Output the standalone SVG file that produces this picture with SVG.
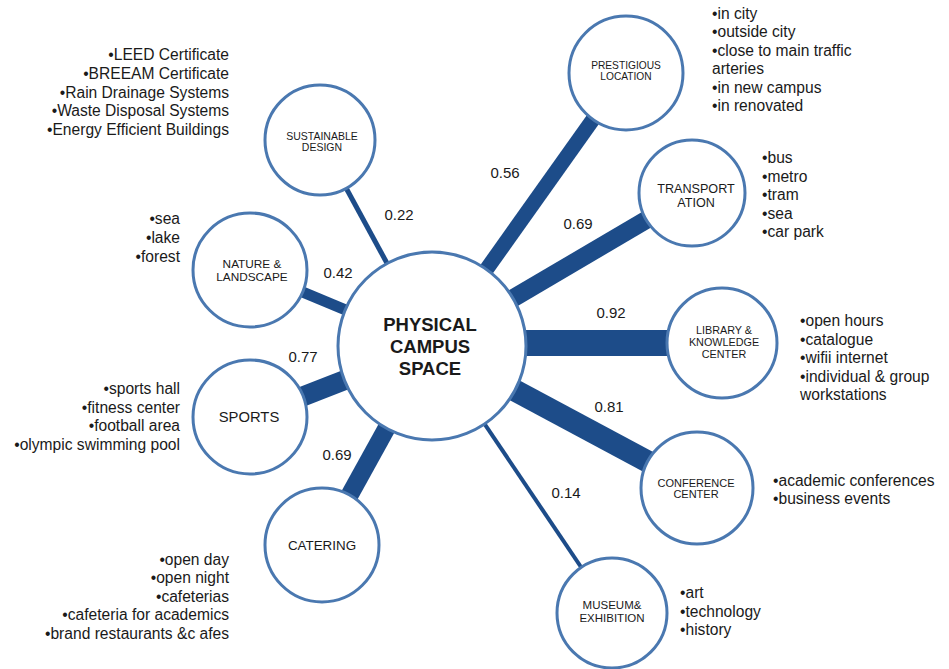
<svg xmlns="http://www.w3.org/2000/svg" width="949" height="669" viewBox="0 0 949 669">
<style>
.bar{stroke:#1d4c89;stroke-linecap:butt}
.node{fill:#fff;stroke:#4a78b0;stroke-width:3}
.t{font-family:"Liberation Sans",Arial,sans-serif;fill:#1a1a1a}
.lbl{text-anchor:middle}
.lst{font-size:15.6px}
.num{font-size:15px;text-anchor:middle}
.r{text-anchor:end}
</style>
<rect width="949" height="669" fill="#fff"/>
<g id="connectors">
<line class="bar" x1="432" y1="346" x2="626" y2="73" stroke-width="15"/>
<line class="bar" x1="432" y1="346" x2="692" y2="193" stroke-width="18"/>
<line class="bar" x1="432" y1="343" x2="722" y2="343" stroke-width="26"/>
<line class="bar" x1="432" y1="346" x2="697" y2="488" stroke-width="22"/>
<line class="bar" x1="432" y1="346" x2="612" y2="613" stroke-width="4"/>
<line class="bar" x1="432" y1="346" x2="322" y2="545" stroke-width="18"/>
<line class="bar" x1="432" y1="346" x2="250" y2="417" stroke-width="20"/>
<line class="bar" x1="432" y1="346" x2="250" y2="270" stroke-width="11"/>
<line class="bar" x1="432" y1="346" x2="320" y2="140" stroke-width="5"/>
</g>
<g id="weights" class="t num">
<text x="505" y="178">0.56</text>
<text x="399" y="220">0.22</text>
<text x="578" y="229">0.69</text>
<text x="338" y="278">0.42</text>
<text x="611" y="318">0.92</text>
<text x="303" y="362">0.77</text>
<text x="609" y="412">0.81</text>
<text x="337" y="460">0.69</text>
<text x="566" y="498">0.14</text>
</g>
<g id="center">
<circle class="node" cx="432" cy="346" r="94" stroke="#5a86bb"/>
<text class="t" x="430" y="331" font-size="18.5" font-weight="bold" text-anchor="middle">PHYSICAL</text>
<text class="t" x="430" y="353" font-size="18.5" font-weight="bold" text-anchor="middle">CAMPUS</text>
<text class="t" x="430" y="375" font-size="18.5" font-weight="bold" text-anchor="middle">SPACE</text>
</g>
<g id="prestigious">
<circle class="node" cx="626" cy="73" r="57"/>
<text class="t lbl" x="626" y="69" font-size="10.2">PRESTIGIOUS</text>
<text class="t lbl" x="626" y="80" font-size="10.2">LOCATION</text>
<text class="t lst" x="712" y="19">•in city</text>
<text class="t lst" x="712" y="37">•outside city</text>
<text class="t lst" x="712" y="56">•close to main traffic</text>
<text class="t lst" x="712" y="74">arteries</text>
<text class="t lst" x="712" y="93">•in new campus</text>
<text class="t lst" x="712" y="111">•in renovated</text>
</g>
<g id="transportation">
<circle class="node" cx="692" cy="193" r="53"/>
<text class="t lbl" x="696" y="193" font-size="12.6">TRANSPORT</text>
<text class="t lbl" x="696" y="207" font-size="12.6">ATION</text>
<text class="t lst" x="762" y="163">•bus</text>
<text class="t lst" x="762" y="182">•metro</text>
<text class="t lst" x="762" y="200">•tram</text>
<text class="t lst" x="762" y="219">•sea</text>
<text class="t lst" x="762" y="237">•car park</text>
</g>
<g id="library">
<circle class="node" cx="722" cy="343" r="55"/>
<text class="t lbl" x="724" y="334" font-size="10.8">LIBRARY &amp;</text>
<text class="t lbl" x="724" y="346" font-size="10.8">KNOWLEDGE</text>
<text class="t lbl" x="724" y="358" font-size="10.8">CENTER</text>
<text class="t lst" x="800" y="326">•open hours</text>
<text class="t lst" x="800" y="345">•catalogue</text>
<text class="t lst" x="800" y="363">•wifii internet</text>
<text class="t lst" x="800" y="382">•individual &amp; group</text>
<text class="t lst" x="800" y="400">workstations</text>
</g>
<g id="conference">
<circle class="node" cx="697" cy="488" r="56"/>
<text class="t lbl" x="696" y="487" font-size="11">CONFERENCE</text>
<text class="t lbl" x="696" y="498" font-size="11">CENTER</text>
<text class="t lst" x="773" y="486">•academic conferences</text>
<text class="t lst" x="773" y="504">•business events</text>
</g>
<g id="museum">
<circle class="node" cx="612" cy="613" r="55"/>
<text class="t lbl" x="612" y="609" font-size="11.5">MUSEUM&amp;</text>
<text class="t lbl" x="612" y="622" font-size="11.5">EXHIBITION</text>
<text class="t lst" x="680" y="598">•art</text>
<text class="t lst" x="680" y="617">•technology</text>
<text class="t lst" x="680" y="635">•history</text>
</g>
<g id="catering">
<circle class="node" cx="322" cy="545" r="57"/>
<text class="t lbl" x="322" y="550" font-size="13.4">CATERING</text>
<text class="t lst r" x="229" y="565">•open day</text>
<text class="t lst r" x="229" y="583">•open night</text>
<text class="t lst r" x="229" y="602">•cafeterias</text>
<text class="t lst r" x="229" y="620">•cafeteria for academics</text>
<text class="t lst r" x="229" y="639">•brand restaurants &amp;c afes</text>
</g>
<g id="sports">
<circle class="node" cx="250" cy="417" r="57"/>
<text class="t lbl" x="249" y="422" font-size="14.8">SPORTS</text>
<text class="t lst r" x="180" y="394">•sports hall</text>
<text class="t lst r" x="180" y="413">•fitness center</text>
<text class="t lst r" x="180" y="431">•football area</text>
<text class="t lst r" x="180" y="450">•olympic swimming pool</text>
</g>
<g id="nature">
<circle class="node" cx="250" cy="270" r="57"/>
<text class="t lbl" x="252" y="268" font-size="11.8">NATURE &amp;</text>
<text class="t lbl" x="252" y="281" font-size="11.8">LANDSCAPE</text>
<text class="t lst r" x="180" y="224">•sea</text>
<text class="t lst r" x="180" y="243">•lake</text>
<text class="t lst r" x="180" y="262">•forest</text>
</g>
<g id="sustainable">
<circle class="node" cx="320" cy="140" r="55"/>
<text class="t lbl" x="322" y="140" font-size="10.5">SUSTAINABLE</text>
<text class="t lbl" x="322" y="151" font-size="10.5">DESIGN</text>
<text class="t lst r" x="229" y="60">•LEED Certificate</text>
<text class="t lst r" x="229" y="79">•BREEAM Certificate</text>
<text class="t lst r" x="229" y="98">•Rain Drainage Systems</text>
<text class="t lst r" x="229" y="116">•Waste Disposal Systems</text>
<text class="t lst r" x="229" y="135">•Energy Efficient Buildings</text>
</g>
</svg>
